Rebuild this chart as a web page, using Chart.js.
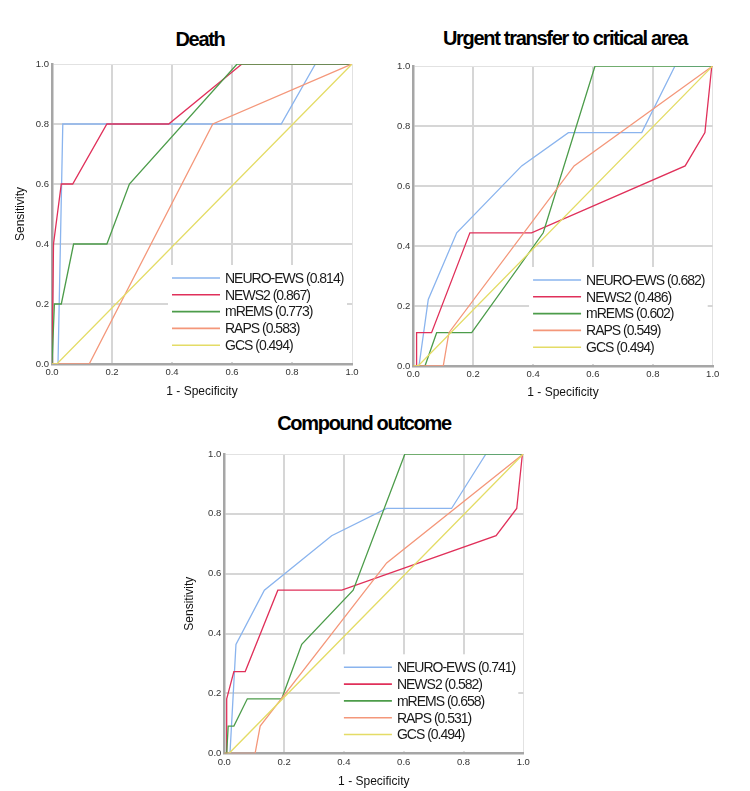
<!DOCTYPE html>
<html lang="en">
<head>
<meta charset="UTF-8">
<title>ROC curves</title>
<script src="https://cdn.jsdelivr.net/npm/chart.js"></script>
<style>
  html, body {
    margin: 0;
    padding: 0;
    background: #fff;
    width: 750px;
    height: 791px;
    overflow: hidden;
    position: relative;
    font-family: "Liberation Sans", Arial, sans-serif;
  }
  canvas {
    position: absolute;
  }
  .ttl {
    position: absolute;
    font-size: 20px;
    font-weight: bold;
    letter-spacing: -1.3px;
    line-height: 24px;
    text-align: center;
    color: #000;
    white-space: nowrap;
  }
</style>
</head>
<body>
  <div class="ttl" style="left:100px;top:27px;width:200px">Death</div>
  <div class="ttl" style="left:415px;top:26px;width:300px">Urgent transfer to critical area</div>
  <div class="ttl" style="left:214px;top:411px;width:300px">Compound outcome</div>
  <canvas id="death" width="375" height="400" style="left:0;top:0"></canvas>
  <canvas id="urgent" width="375" height="400" style="left:375px;top:0"></canvas>
  <canvas id="compound" width="375" height="361" style="left:170px;top:430px"></canvas>
  <script>
    // series names, colours
    const names = ['NEURO-EWS', 'NEWS2', 'mREMS', 'RAPS', 'GCS'];
    const colors = ['#8ab4ee', '#e0305a', '#4c9c4a', '#f4977a', '#e4dc66'];
    const tickValues = [0, 0.2, 0.4, 0.6, 0.8, 1.0];

    // Death
    const deathAuc = [0.814, 0.867, 0.773, 0.583, 0.494];
    const deathNeuro = [[0,0],[0.02,0],[0.036,0.8],[0.764,0.8],[0.878,1],[1,1]];
    const deathNews2 = [[0,0],[0.005,0.4],[0.031,0.6],[0.069,0.6],[0.183,0.8],[0.389,0.8],[0.633,1],[1,1]];
    const deathMrems = [[0,0],[0.008,0.2],[0.031,0.2],[0.072,0.4],[0.183,0.4],[0.258,0.6],[0.617,1],[1,1]];
    const deathRaps = [[0,0],[0.124,0],[0.536,0.8],[1,1]];
    const deathGcs = [[0,0],[0.016,0],[1,1]];

    // Urgent transfer to critical area
    const urgentAuc = [0.682, 0.486, 0.602, 0.549, 0.494];
    const urgentNeuro = [[0,0],[0.019,0],[0.05,0.222],[0.145,0.444],[0.362,0.667],[0.518,0.778],[0.763,0.778],[0.874,1],[1,1]];
    const urgentNews2 = [[0,0],[0.011,0],[0.011,0.111],[0.061,0.111],[0.189,0.444],[0.395,0.444],[0.908,0.667],[0.974,0.778],[0.997,1],[1,1]];
    const urgentMrems = [[0,0],[0.039,0],[0.078,0.111],[0.195,0.111],[0.434,0.444],[0.607,1],[1,1]];
    const urgentRaps = [[0,0],[0.1,0],[0.119,0.111],[0.537,0.667],[1,1]];
    const urgentGcs = [[0,0],[0.016,0],[1,1]];

    // Compound outcome
    const compoundAuc = [0.741, 0.582, 0.658, 0.531, 0.494];
    const compoundNeuro = [[0,0],[0.019,0],[0.039,0.364],[0.134,0.545],[0.359,0.727],[0.543,0.818],[0.76,0.818],[0.875,1],[1,1]];
    const compoundNews2 = [[0,0],[0.008,0],[0.008,0.182],[0.032,0.273],[0.07,0.273],[0.179,0.545],[0.393,0.545],[0.909,0.727],[0.978,0.818],[0.997,1],[1,1]];
    const compoundMrems = [[0,0],[0.008,0],[0.013,0.091],[0.032,0.091],[0.077,0.182],[0.192,0.182],[0.259,0.364],[0.431,0.545],[0.604,1],[1,1]];
    const compoundRaps = [[0,0],[0.103,0],[0.12,0.091],[0.543,0.636],[1,1]];
    const compoundGcs = [[0,0],[0.016,0],[1,1]];

    const FONT = '"Liberation Sans", Arial, sans-serif';

    // legend drawn inside the plot, on a white patch that hides the grid
    const insideLegend = {
      id: 'insideLegend',
      beforeDatasetsDraw(chart) {
        const { ctx, chartArea: a } = chart;
        const x0 = a.left + (a.right - a.left) * 0.4;
        const y0 = a.bottom - 86;
        const rowH = 16.8;
        ctx.save();
        ctx.fillStyle = '#fff';
        ctx.fillRect(x0 - 4, y0 - 13, a.right - 5 - (x0 - 4), a.bottom - 2 - (y0 - 13));
        ctx.font = '14px ' + FONT;
        ctx.letterSpacing = '-1px';
        ctx.textBaseline = 'middle';
        chart.data.datasets.forEach((ds, i) => {
          const y = y0 + i * rowH;
          ctx.strokeStyle = ds.borderColor;
          ctx.lineWidth = 1.6;
          ctx.beginPath();
          ctx.moveTo(x0, y);
          ctx.lineTo(x0 + 48, y);
          ctx.stroke();
          ctx.fillStyle = '#1a1a1a';
          ctx.fillText(ds.label, x0 + 53, y + 1);
        });
        ctx.restore();
      }
    };

    function makeChart(id, series, aucs, cfg) {
      const datasets = series.map((pts, i) => ({
        label: names[i] + ' (' + aucs[i].toFixed(3) + ')',
        data: pts.map(p => ({ x: p[0], y: p[1] })),
        borderColor: colors[i],
        backgroundColor: colors[i],
        borderWidth: 1.3,
        showLine: true,
        pointRadius: 0,
        tension: 0,
        order: series.length - i,
      }));

      const gridLine = {
        color: c => (c.tick && c.tick.value === 1) ? '#e2e2e2' : '#d6d6d6',
        lineWidth: c => (c.tick && c.tick.value === 1) ? 1 : 2,
        drawTicks: false,
      };
      const tickOpts = {
        autoSkip: false,
        padding: 3,
        color: '#333',
        font: { family: FONT, size: 9.5 },
        callback: v => Number(v).toFixed(1),
      };
      const fixTicks = axis => { axis.ticks = tickValues.map(v => ({ value: v })); };

      return new Chart(document.getElementById(id), {
        type: 'scatter',
        data: { datasets },
        options: {
          responsive: false,
          animation: false,
          devicePixelRatio: 1,
          layout: { padding: { top: cfg.top, right: cfg.right, left: 0, bottom: 0 } },
          scales: {
            x: {
              type: 'linear',
              min: 0,
              max: 1,
              grid: gridLine,
              border: { color: '#a6a6a6', width: 2.5 },
              ticks: tickOpts,
              afterBuildTicks: fixTicks,
              afterFit: s => { s.height = cfg.xHeight; },
              title: {
                display: true,
                text: '1 - Specificity',
                color: '#111',
                font: { family: FONT, size: 12 },
                padding: { top: 0, bottom: cfg.xTitlePad },
              },
            },
            y: {
              type: 'linear',
              min: 0,
              max: 1,
              grid: gridLine,
              border: { color: '#a6a6a6', width: 2.5 },
              ticks: tickOpts,
              afterBuildTicks: fixTicks,
              afterFit: s => { s.width = cfg.yWidth; },
              title: {
                display: cfg.yTitle,
                text: 'Sensitivity',
                color: '#111',
                font: { family: FONT, size: 12 },
                padding: { top: cfg.yTitlePad, bottom: 0 },
              },
            },
          },
          plugins: {
            legend: { display: false },
            tooltip: { enabled: false },
          },
        },
        plugins: [insideLegend],
      });
    }

    makeChart('death',
      [deathNeuro, deathNews2, deathMrems, deathRaps, deathGcs], deathAuc,
      { top: 64, right: 23, yWidth: 52, xHeight: 36, yTitle: true, yTitlePad: 13, xTitlePad: 1 });

    makeChart('urgent',
      [urgentNeuro, urgentNews2, urgentMrems, urgentRaps, urgentGcs], urgentAuc,
      { top: 66, right: 37.3, yWidth: 38.3, xHeight: 34, yTitle: false, yTitlePad: 0, xTitlePad: 0 });

    makeChart('compound',
      [compoundNeuro, compoundNews2, compoundMrems, compoundRaps, compoundGcs], compoundAuc,
      { top: 24, right: 21.7, yWidth: 54.3, xHeight: 37.7, yTitle: true, yTitlePad: 12.8, xTitlePad: 1.8 });
  </script>
</body>
</html>
